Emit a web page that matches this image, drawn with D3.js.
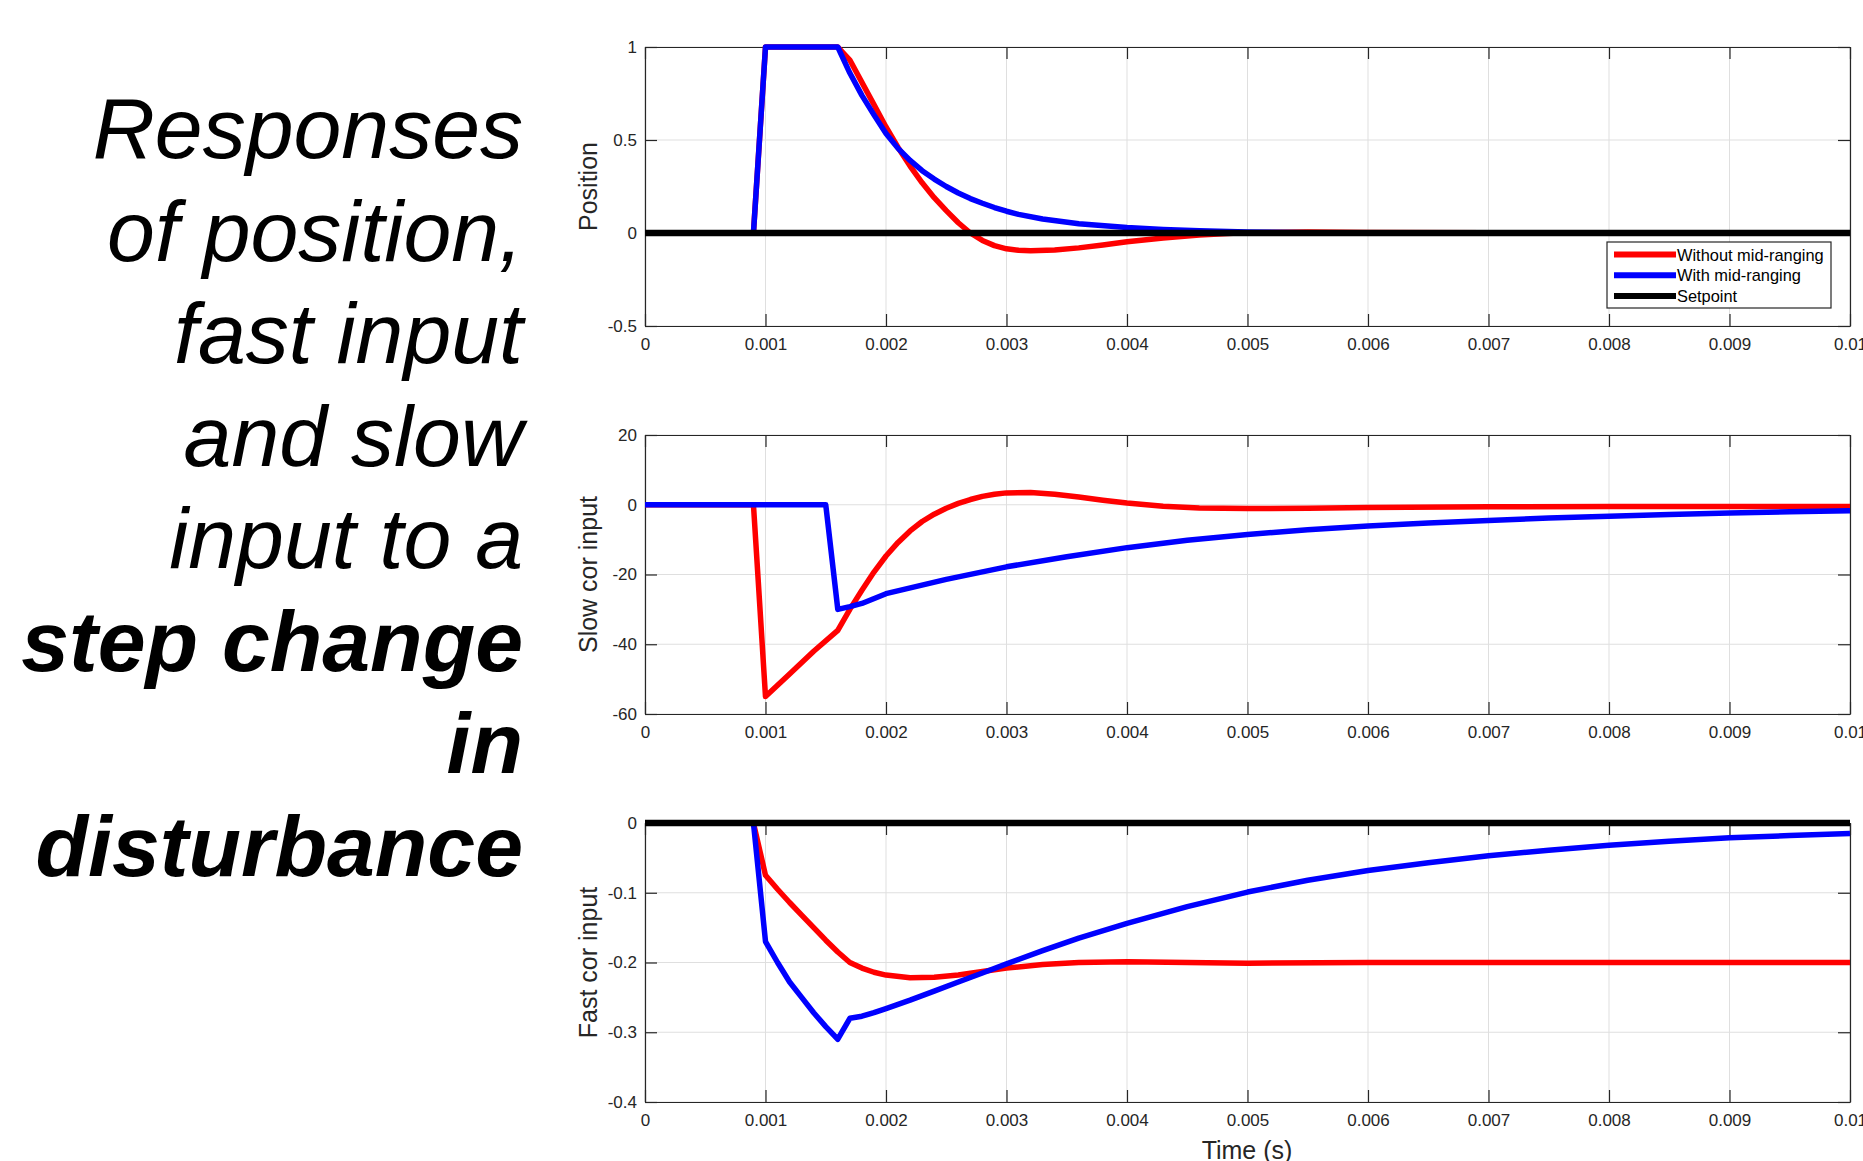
<!DOCTYPE html>
<html>
<head>
<meta charset="utf-8">
<script src="https://cdn.jsdelivr.net/npm/d3@7"></script>
<style>
body { margin: 0; background: #fff; }
text { font-family: "Liberation Sans", Arial, sans-serif; }
</style>
</head>
<body>
<div id="chart"></div>
<script>
// title text on the left
const titleLines = ["Responses", "of position,", "fast input", "and slow", "input to a", "step change", "in", "disturbance"];
const titleBold = [false, false, false, false, false, true, true, true];

// shared time axis
const timeTicks = [0, 0.001, 0.002, 0.003, 0.004, 0.005, 0.006, 0.007, 0.008, 0.009, 0.01];

// position
const posTicks = [-0.5, 0, 0.5, 1];
const tPosRed = [0, 0.0009, 0.001, 0.0016, 0.0017, 0.0018, 0.0019, 0.002, 0.0021, 0.0022, 0.0023, 0.0024, 0.0025, 0.0026, 0.0027, 0.0028, 0.0029, 0.003, 0.0031, 0.0032, 0.0034, 0.0036, 0.0038, 0.004, 0.0043, 0.0046, 0.005, 0.0055, 0.006, 0.007, 0.01];
const posRed = [0, 0, 1, 1, 0.93, 0.81, 0.69, 0.57, 0.46, 0.36, 0.27, 0.19, 0.12, 0.055, 0.0, -0.04, -0.068, -0.085, -0.093, -0.096, -0.092, -0.08, -0.064, -0.047, -0.027, -0.011, 0.002, 0.005, 0.003, 0.001, 0];
const tPosBlue = [0, 0.0009, 0.001, 0.0016, 0.0017, 0.0018, 0.0019, 0.002, 0.0021, 0.0022, 0.0023, 0.0024, 0.0025, 0.0026, 0.0027, 0.0028, 0.0029, 0.003, 0.0031, 0.0033, 0.0036, 0.004, 0.0043, 0.0046, 0.005, 0.0055, 0.006, 0.01];
const posBlue = [0, 0, 1, 1, 0.86, 0.74, 0.635, 0.535, 0.455, 0.39, 0.335, 0.29, 0.25, 0.215, 0.185, 0.16, 0.137, 0.117, 0.1, 0.075, 0.05, 0.029, 0.019, 0.012, 0.006, 0.002, 0.0005, 0];

// slow cor input
const slowTicks = [-60, -40, -20, 0, 20];
const tSlowRed = [0, 0.0009, 0.001, 0.0012, 0.0014, 0.0016, 0.0017, 0.0018, 0.0019, 0.002, 0.0021, 0.0022, 0.0023, 0.0024, 0.0025, 0.0026, 0.0027, 0.0028, 0.0029, 0.003, 0.0032, 0.0034, 0.0036, 0.0038, 0.004, 0.0043, 0.0046, 0.005, 0.0055, 0.006, 0.007, 0.008, 0.01];
const slowRed = [0, 0, -55, -48.5, -42, -36, -30, -24.5, -19.3, -14.7, -10.8, -7.5, -4.8, -2.7, -1.0, 0.4, 1.5, 2.4, 3.0, 3.4, 3.5, 3.0, 2.2, 1.3, 0.5, -0.4, -0.9, -1.1, -1.0, -0.8, -0.6, -0.5, -0.5];
const tSlowBlue = [0, 0.0015, 0.0016, 0.0017, 0.0018, 0.002, 0.0025, 0.003, 0.0035, 0.004, 0.0045, 0.005, 0.0055, 0.006, 0.0065, 0.007, 0.0075, 0.008, 0.0085, 0.009, 0.0095, 0.01];
const slowBlue = [0, 0, -30, -29.2, -28.3, -25.5, -21.4, -17.8, -14.9, -12.3, -10.2, -8.5, -7.2, -6.1, -5.2, -4.5, -3.8, -3.3, -2.8, -2.4, -2.0, -1.7];

// fast cor input
const fastTicks = [-0.4, -0.3, -0.2, -0.1, 0];
const tFastRed = [0, 0.0009, 0.001, 0.0011, 0.0012, 0.0013, 0.0014, 0.0015, 0.0016, 0.0017, 0.0018, 0.0019, 0.002, 0.0022, 0.0024, 0.0026, 0.0028, 0.003, 0.0033, 0.0036, 0.004, 0.0045, 0.005, 0.006, 0.01];
const fastRed = [0, 0, -0.075, -0.095, -0.114, -0.132, -0.15, -0.168, -0.185, -0.2, -0.208, -0.214, -0.218, -0.222, -0.221, -0.218, -0.213, -0.208, -0.203, -0.2, -0.199, -0.2, -0.201, -0.2, -0.2];
const tFastBlue = [0, 0.0009, 0.001, 0.0011, 0.0012, 0.0013, 0.0014, 0.0015, 0.0016, 0.0017, 0.0018, 0.0019, 0.002, 0.0022, 0.0024, 0.0026, 0.0028, 0.003, 0.0033, 0.0036, 0.004, 0.0045, 0.005, 0.0055, 0.006, 0.0065, 0.007, 0.0075, 0.008, 0.0085, 0.009, 0.0095, 0.01];
const fastBlue = [0, 0, -0.17, -0.2, -0.228, -0.25, -0.272, -0.292, -0.31, -0.28, -0.277, -0.272, -0.266, -0.254, -0.241, -0.228, -0.215, -0.202, -0.183, -0.165, -0.144, -0.12, -0.099, -0.082, -0.068, -0.057, -0.047, -0.039, -0.032, -0.026, -0.021, -0.018, -0.015];

// setpoint
const tSetpoint = [0, 0.01];
const setpoint = [0, 0];

const legendNames = ["Without mid-ranging", "With mid-ranging", "Setpoint"];

const RED = "#ff0000", BLUE = "#0000ff", BLACK = "#000000", AXIS = "#262626";

const W = 1863, H = 1161;
const plotLeft = 645, plotRight = 1850, plotH = 279;

const svg = d3.select("#chart").append("svg")
  .attr("width", W)
  .attr("height", H);

// left title
const title = svg.append("text")
  .attr("text-anchor", "end")
  .style("font-size", "86px")
  .style("font-style", "italic")
  .attr("fill", "#000");
titleLines.forEach((line, i) => {
  title.append("tspan")
    .attr("x", 523)
    .attr("y", 158 + i * 102.5)
    .style("font-weight", titleBold[i] ? "bold" : "normal")
    .text(line);
});

const zip = (t, v) => t.map((d, i) => [d, v[i]]);

const panels = [
  { top: 47, domain: [-0.5, 1], ticks: posTicks, label: "Position", legend: true,
    series: [[tPosRed, posRed, RED], [tPosBlue, posBlue, BLUE], [tSetpoint, setpoint, BLACK]] },
  { top: 435, domain: [-60, 20], ticks: slowTicks, label: "Slow cor input", legend: false,
    series: [[tSlowRed, slowRed, RED], [tSlowBlue, slowBlue, BLUE]] },
  { top: 823, domain: [-0.4, 0], ticks: fastTicks, label: "Fast cor input", legend: false,
    series: [[tFastRed, fastRed, RED], [tFastBlue, fastBlue, BLUE], [tSetpoint, setpoint, BLACK]] }
];

const x_scale = d3.scaleLinear()
  .domain([0, 0.01])
  .range([0, plotRight - plotLeft]);
const pw = plotRight - plotLeft;

const fmt = d => String(+d.toFixed(3));

panels.forEach(p => {
  const y_scale = d3.scaleLinear().domain(p.domain).range([plotH, 0]);
  const g = svg.append("g")
    .attr("transform", "translate(" + plotLeft + "," + p.top + ")");

  // grid
  g.append("g").selectAll("line.vg")
    .data(timeTicks).join("line")
    .attr("x1", d => x_scale(d)).attr("x2", d => x_scale(d))
    .attr("y1", 0).attr("y2", plotH)
    .attr("stroke", "#dfdfdf").attr("stroke-width", 1);
  g.append("g").selectAll("line.hg")
    .data(p.ticks).join("line")
    .attr("x1", 0).attr("x2", pw)
    .attr("y1", d => y_scale(d)).attr("y2", d => y_scale(d))
    .attr("stroke", "#dfdfdf").attr("stroke-width", 1);

  // axes with inward ticks on all four sides
  const xb = g.append("g").attr("transform", "translate(0," + plotH + ")")
    .call(d3.axisBottom(x_scale).tickValues(timeTicks).tickFormat(fmt)
      .tickSizeInner(-12).tickSizeOuter(0).tickPadding(12));
  const xt = g.append("g")
    .call(d3.axisTop(x_scale).tickValues(timeTicks).tickFormat("")
      .tickSizeInner(-12).tickSizeOuter(0));
  const yl = g.append("g")
    .call(d3.axisLeft(y_scale).tickValues(p.ticks).tickFormat(fmt)
      .tickSizeInner(-12).tickSizeOuter(0).tickPadding(8));
  const yr = g.append("g").attr("transform", "translate(" + pw + ",0)")
    .call(d3.axisRight(y_scale).tickValues(p.ticks).tickFormat("")
      .tickSizeInner(-12).tickSizeOuter(0));
  [xb, xt, yl, yr].forEach(a => {
    a.selectAll("path, line").attr("stroke", AXIS).attr("stroke-width", 1.2);
    a.selectAll("text").attr("fill", AXIS).style("font-size", "17px").style("font-family", "'Liberation Sans', Arial, sans-serif");
  });

  // curves
  const line = d3.line()
    .x(d => x_scale(d[0]))
    .y(d => y_scale(d[1]));
  p.series.forEach(s => {
    g.append("path")
      .datum(zip(s[0], s[1]))
      .attr("d", line)
      .style("fill", "none")
      .style("stroke", s[2])
      .style("stroke-width", s[2] === BLACK ? 6.5 : 5.5)
      .style("stroke-linejoin", "round");
  });

  // y label
  svg.append("text")
    .attr("transform", "translate(597," + (p.top + plotH / 2) + ") rotate(-90)")
    .attr("text-anchor", "middle")
    .style("font-size", "25px")
    .attr("fill", AXIS)
    .text(p.label);

  // legend
  if (p.legend) {
    const lg = svg.append("g").attr("transform", "translate(1607,242)");
    lg.append("rect")
      .attr("width", 224).attr("height", 66)
      .attr("fill", "#fff").attr("stroke", AXIS).attr("stroke-width", 1.2);
    const colours = [RED, BLUE, BLACK];
    legendNames.forEach((name, i) => {
      const yy = 12.5 + i * 20.7;
      lg.append("line")
        .attr("x1", 7).attr("x2", 69)
        .attr("y1", yy).attr("y2", yy)
        .attr("stroke", colours[i]).attr("stroke-width", 6);
      lg.append("text")
        .attr("x", 70).attr("y", yy + 6)
        .style("font-size", "16.4px")
        .attr("fill", "#000")
        .text(name);
    });
  }
});

// x label
svg.append("text")
  .attr("x", 1247).attr("y", 1159)
  .attr("text-anchor", "middle")
  .style("font-size", "25px")
  .attr("fill", AXIS)
  .text("Time (s)");
</script>
</body>
</html>
